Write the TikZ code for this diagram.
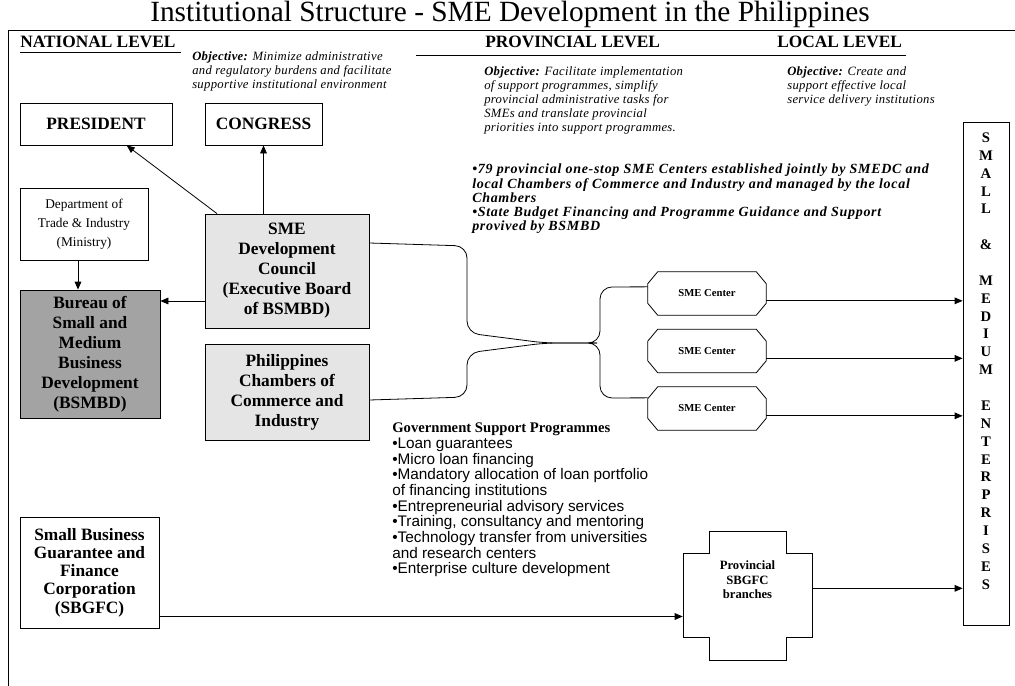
\documentclass[tikz,border=0pt]{standalone}
\usepackage{fontspec}
\setmainfont{Liberation Serif}
\newfontfamily\arialfont{Liberation Sans}
\newfontfamily\objfont[LetterSpace=2.5]{Liberation Serif}
\newfontfamily\notefont[LetterSpace=5]{Liberation Serif}
\usetikzlibrary{arrows.meta, calc}

\tikzset{
    arr/.style={-{Triangle[length=6pt,width=5pt]}, line width=0.6pt},
    link/.style={line width=0.6pt, rounded corners=9pt},
    box/.style={draw, line width=0.6pt, align=center, inner sep=0pt},
    boxfont/.style={font=\fontsize{13}{15}\selectfont\bfseries},
    level/.style={font=\fontsize{13}{15}\selectfont\bfseries, anchor=base west, inner sep=0pt},
    objective/.style={font=\objfont\fontsize{9.5}{10.6}\selectfont\itshape, anchor=north west, align=left, inner sep=0pt},
    centerbox/.style={minimum width=88.5pt, minimum height=32.25pt, inner sep=0pt, font=\fontsize{8}{9}\selectfont\bfseries}
}

\begin{document}
\begin{tikzpicture}[x=0.75pt, y=-0.75pt]
    \useasboundingbox (0,0) rectangle (1015,686);

    % frame and headings
    \node (title) at (510,14) {\fontsize{22}{26}\selectfont Institutional Structure - SME Development in the Philippines};
    \draw[line width=0.6pt] (8,686) -- (8,30) -- (1015,30);
    \node[level] (natl) at (20,47) {NATIONAL LEVEL};
    \draw[line width=0.6pt] (natl.base west) ++(0,5) -- ++(161,0);
    \node[level] (prov) at (485,47) {PROVINCIAL LEVEL};
    \node[level] (local) at (777,47) {LOCAL LEVEL};
    \draw[line width=0.6pt] (416,55) -- (906,55);

    % objectives
    \node[objective] (objnat) at (192,51) {\textbf{Objective:} Minimize administrative\\and regulatory burdens and facilitate\\supportive institutional environment};
    \node[objective] (objprov) at (484,66) {\textbf{Objective:} Facilitate implementation\\of support programmes, simplify\\provincial administrative tasks for\\SMEs and translate provincial\\priorities into support programmes.};
    \node[objective] (objloc) at (787,66) {\textbf{Objective:} Create and\\support effective local\\service delivery institutions};

    % national level boxes
    \node[box, boxfont, minimum width=114pt, minimum height=31.5pt] (pres) at (96,124) {PRESIDENT};
    \node[box, boxfont, minimum width=87.75pt, minimum height=31.5pt] (congress) at (263.5,124) {CONGRESS};
    \node[box, font=\fontsize{10}{14.25}\selectfont, minimum width=96pt, minimum height=54pt] (dti) at (84,224) {Department of\\Trade \& Industry\\(Ministry)};
    \node[box, boxfont, fill=black!36, minimum width=105pt, minimum height=96pt] (bureau) at (90,354) {Bureau of\\Small and\\Medium\\Business\\Development\\(BSMBD)};
    \node[box, boxfont, fill=black!10, minimum width=123pt, minimum height=85.5pt] (smedc) at (287,271) {SME\\Development\\Council\\(Executive Board\\of BSMBD)};
    \node[box, boxfont, fill=black!10, minimum width=123pt, minimum height=72pt] (chambers) at (287,392) {Philippines\\Chambers of\\Commerce and\\Industry};
    \node[box, font=\fontsize{13}{13.7}\selectfont\bfseries, minimum width=104.25pt, minimum height=83.25pt] (sbgfc) at (89.5,572.5) {Small Business\\Guarantee and\\Finance\\Corporation\\(SBGFC)};

    % arrows between national boxes
    \coordinate (dtiout) at ([xshift=-4.5pt]dti.south);
    \draw[arr] (dtiout) -- (dtiout |- bureau.north);
    \coordinate (smedcout) at ([yshift=-22.5pt]smedc.west);
    \draw[arr] (smedcout) -- (smedcout -| bureau.east);
    \draw[arr] (congress.south |- smedc.north) -- (congress.south);
    \draw[arr] ([xshift=-52.5pt]smedc.north) -- ([xshift=23pt]pres.south);

    % provincial notes
    \node[anchor=north west, align=left, inner sep=0pt, font=\notefont\fontsize{10.5}{10.6}\selectfont\bfseries\itshape] (notes) at (472,164) {\textbullet79 provincial one-stop SME Centers established jointly by SMEDC and\\local Chambers of Commerce and Industry and managed by the local\\Chambers\\\textbullet State Budget Financing and Programme Guidance and Support\\provived by BSMBD};

    % SME centers
    \node[centerbox] (c1) at (707,293.5) {SME Center};
    \node[centerbox] (c2) at (707,351) {SME Center};
    \node[centerbox] (c3) at (707,408.5) {SME Center};
    \foreach \c in {c1,c2,c3}
        \draw[line width=0.6pt] ($(\c.north west)+(10,0)$) -- ($(\c.north east)+(-10,0)$) -- ($(\c.north east)+(0,12)$)
            -- ($(\c.south east)+(0,-12)$) -- ($(\c.south east)+(-10,0)$) -- ($(\c.south west)+(10,0)$)
            -- ($(\c.south west)+(0,-12)$) -- ($(\c.north west)+(0,12)$) -- cycle;

    % links into the centers
    \coordinate (hubL) at (545,343);
    \coordinate (hubR) at (585,343);
    \draw[link] ([yshift=21pt]smedc.east) -- (467,246) -- (467,333) -- (hubL) -- (hubR) -- (600,343) -- (600,287) -- ([yshift=5pt]c1.west);
    \draw[link] ([yshift=-6pt]chambers.east) -- (467,397) -- (467,353) -- (hubL) -- (hubR) -- (600,343) -- (600,398) -- ([yshift=8pt]c3.west);

    % government programmes
    \node[anchor=north west, align=left, inner sep=0pt, font=\arialfont\fontsize{11.5}{11.75}\selectfont] (progs) at (392,423) {{\rmfamily\fontsize{11}{11.75}\selectfont\bfseries Government Support Programmes}\\\textbullet Loan guarantees\\\textbullet Micro loan financing\\\textbullet Mandatory allocation of loan portfolio\\of financing institutions\\\textbullet Entrepreneurial advisory services\\\textbullet Training, consultancy and mentoring\\\textbullet Technology transfer from universities\\and research centers\\\textbullet Enterprise culture development};

    % provincial branches
    \node[minimum width=96.75pt, minimum height=63pt, inner sep=0pt] (branch) at (747.5,595) {};
    \draw[line width=0.6pt] (683,553) -- (709,553) -- (709,531) -- (786,531) -- (786,553) -- (812,553) -- (812,637)
        -- (786,637) -- (786,660) -- (709,660) -- (709,637) -- (683,637) -- cycle;
    \node[align=center, inner sep=0pt, font=\fontsize{9.5}{10.9}\selectfont\bfseries] (branchtxt) at (747.5,580) {Provincial\\SBGFC\\branches};

    % enterprises
    \node[box, minimum width=34.5pt, minimum height=377.25pt] (sme) at (986,373.5) {};
    \node[align=center, inner sep=0pt, font=\fontsize{11}{13.4}\selectfont\bfseries] (smetxt) at (986,361) {S\\M\\A\\L\\L\\[13.4pt]\&\\[13.4pt]M\\E\\D\\I\\U\\M\\[13.4pt]E\\N\\T\\E\\R\\P\\R\\I\\S\\E\\S};

    % arrows to enterprises
    \foreach \c in {c1,c2,c3} {
        \coordinate (\c out) at ([yshift=-5.5pt]\c.east);
        \draw[arr] (\c out) -- (\c out -| sme.west);
    }
    \coordinate (sbout) at ([yshift=-33pt]sbgfc.east);
    \draw[arr] (sbout) -- (sbout -| branch.west);
    \coordinate (brout) at ([yshift=5pt]branch.east);
    \draw[arr] (brout) -- (brout -| sme.west);
\end{tikzpicture}
\end{document}
